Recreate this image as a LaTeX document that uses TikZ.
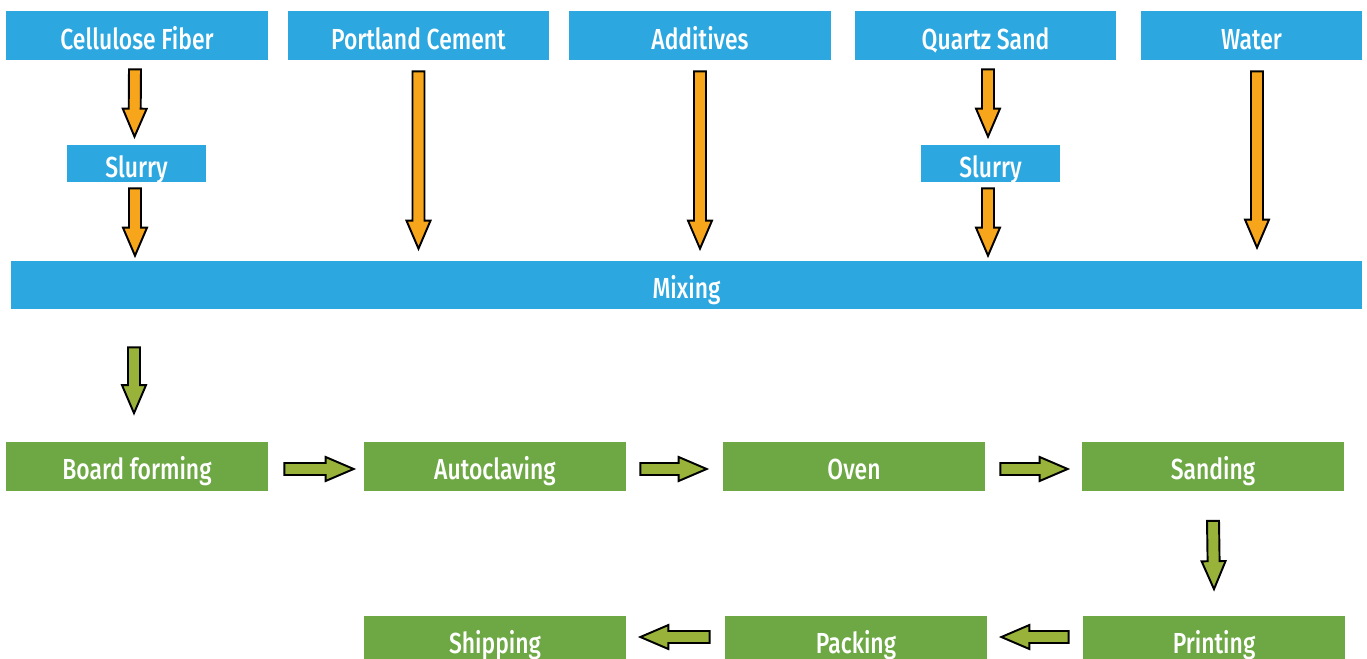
\documentclass[tikz,border=0pt]{standalone}
\usepackage{fontspec}
\setmainfont{Fira Sans}[FakeStretch=0.79, UprightFont=* Medium]
\usetikzlibrary{calc}
\definecolor{feedblue}{RGB}{44,167,224}
\definecolor{stepgreen}{RGB}{109,168,69}
\definecolor{feedorange}{RGB}{247,166,27}
\definecolor{stepolive}{RGB}{152,178,58}
\tikzset{
	feedbox/.style={fill=feedblue, text=white, inner sep=0pt, minimum height=0.98cm, text height=15.4pt, text depth=0pt, font=\fontsize{16.5}{18}\selectfont},
	stepbox/.style={fill=stepgreen, text=white, inner sep=0pt, minimum width=5.24cm, minimum height=0.98cm, text height=15.4pt, text depth=0pt, font=\fontsize{16.5}{18}\selectfont},
	arrowline/.style={draw=black, line width=1.1pt, line join=miter}
}
\def\blockarrow[#1](#2)(#3){\path (#2) coordinate (tail) (#3) coordinate (tip) ($(tip)!0.56cm!(tail)$) coordinate (neck);
	\draw[arrowline, fill=#1] ($(tail)!0.12cm!90:(tip)$) -- ($(neck)!0.12cm!90:(tip)$) -- ($(neck)!0.24cm!90:(tip)$) -- (tip) -- ($(neck)!0.24cm!-90:(tip)$) -- ($(neck)!0.12cm!-90:(tip)$) -- ($(tail)!0.12cm!-90:(tip)$) -- cycle;}

\begin{document}
\begin{tikzpicture}
		%%%%% START %%%%%
		\useasboundingbox (0, 0) rectangle (27.34, -13.16);
		\clip (0, 0) rectangle (27.34, -13.16);
		
		% raw materials
		\node[feedbox, minimum width=5.24cm] (cf) at (2.74, -0.71) {Cellulose Fiber};
		\node[feedbox, minimum width=5.22cm] (pc) at (8.37, -0.71) {Portland Cement};
		\node[feedbox, minimum width=5.24cm] (ad) at (14.0, -0.71) {Additives};
		\node[feedbox, minimum width=5.22cm] (qs) at (19.71, -0.71) {Quartz Sand};
		\node[feedbox, minimum width=4.42cm] (wa) at (25.03, -0.71) {Water};
		
		\node[feedbox, minimum width=2.78cm, minimum height=0.74cm] (s1) at (2.73, -3.27) {Slurry};
		\node[feedbox, minimum width=2.78cm, minimum height=0.74cm] (s2) at (19.81, -3.27) {Slurry};
		
		\node[feedbox, minimum width=27.02cm, minimum height=0.96cm] (mix) at (13.73, -5.70) {Mixing};
		
		% process steps
		\node[stepbox] (bf) at (2.74, -9.32) {Board forming};
		\node[stepbox] (ac) at (9.90, -9.32) {Autoclaving};
		\node[stepbox] (ov) at (17.08, -9.32) {Oven};
		\node[stepbox] (sa) at (24.26, -9.32) {Sanding};
		\node[stepbox] (pr) at (24.28, -12.80) {Printing};
		\node[stepbox] (pa) at (17.12, -12.80) {Packing};
		\node[stepbox] (sh) at (9.90, -12.80) {Shipping};
		
		\blockarrow[feedorange]({$(cf.south)+(-0.04,-0.18)$})({$(s1.north)+(-0.04,0.16)$})
		\blockarrow[feedorange]({$(s1.south)+(-0.03,-0.12)$})({$(s1.south |- mix.north)+(-0.03,0.1)$})
		\blockarrow[feedorange]({$(pc.south)+(0,-0.22)$})({$(pc.south |- mix.north)+(0,0.24)$})
		\blockarrow[feedorange]({$(ad.south)+(0,-0.22)$})({$(ad.south |- mix.north)+(0,0.24)$})
		\blockarrow[feedorange]({$(qs.south)+(0.05,-0.18)$})({$(s2.north)+(-0.05,0.16)$})
		\blockarrow[feedorange]({$(s2.south)+(-0.05,-0.12)$})({$(s2.south |- mix.north)+(-0.05,0.1)$})
		\blockarrow[feedorange]({$(wa.south)+(0.11,-0.22)$})({$(wa.south |- mix.north)+(0.11,0.26)$})
		
		\blockarrow[stepolive]({$(bf.north |- mix.south)+(-0.06,-0.76)$})({$(bf.north)+(-0.06,0.56)$})
		\blockarrow[stepolive]({$(bf.east)+(0.32,-0.06)$})({$(ac.west)+(-0.2,-0.06)$})
		\blockarrow[stepolive]({$(ac.east)+(0.28,-0.06)$})({$(ov.west)+(-0.32,-0.06)$})
		\blockarrow[stepolive]({$(ov.east)+(0.3,-0.06)$})({$(sa.west)+(-0.28,-0.06)$})
		\blockarrow[stepolive]({$(sa.south)+(0,-0.6)$})({$(pr.north)+(0,0.52)$})
		\blockarrow[stepolive]({$(pr.west)+(-0.28,0.06)$})({$(pa.east)+(0.28,0.06)$})
		\blockarrow[stepolive]({$(pa.west)+(-0.3,0.06)$})({$(sh.east)+(0.28,0.06)$})
		
		%%%%% END %%%%%
	\end{tikzpicture}
\end{document}
